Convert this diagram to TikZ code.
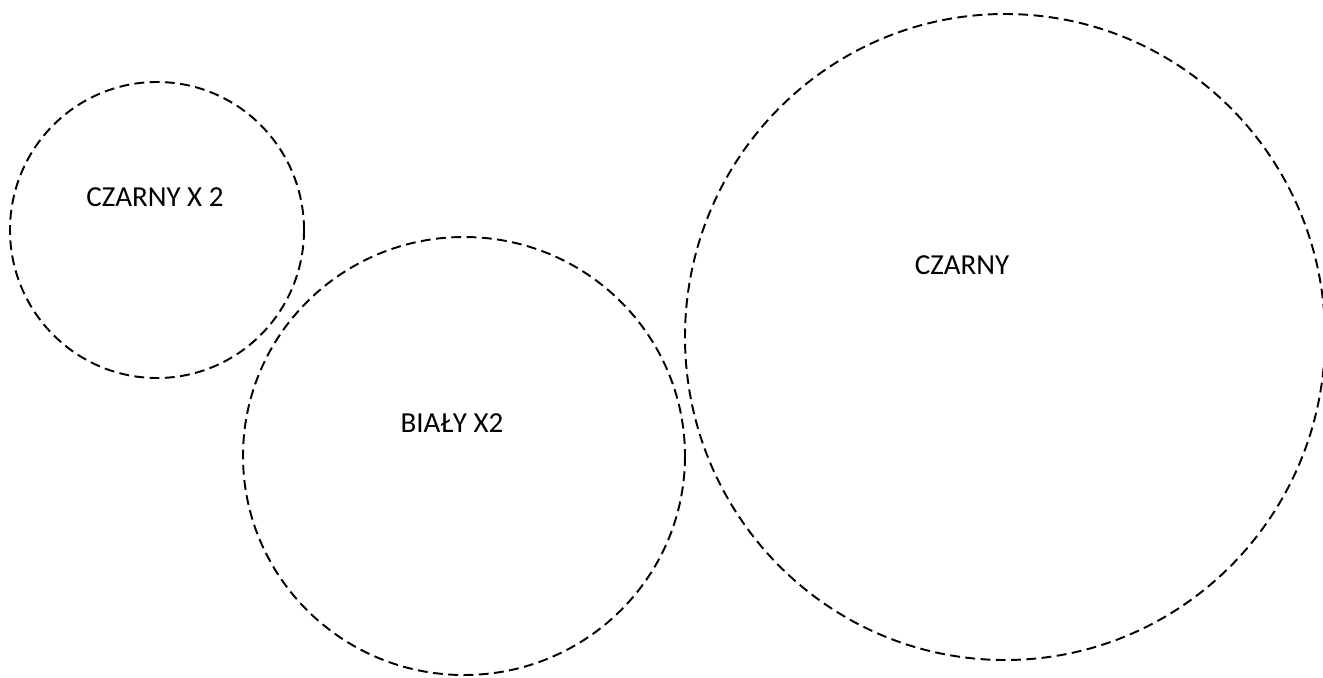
\documentclass[tikz,border=0pt]{standalone}
\usepackage{fontspec}
\setmainfont{Carlito}
\usepackage{xcolor}
\definecolor{ringink}{HTML}{000000}

\begin{document}
\begin{tikzpicture}[
  x=0.02cm,
  y=-0.02cm,
  every node/.style={font=\fontsize{16.5}{20}\selectfont, ringink, inner sep=0pt},
  ring/.style={ringink, line width=1.1pt, dash pattern=on 5.6pt off 3.1pt},
  tag/.style={anchor=base}
]
  \useasboundingbox (0,0) rectangle (1323,677);

  % ---- the three dashed rings ------------------------------------------
  \draw[ring] (157,230) ellipse (147 and 148);
  \draw[ring] (464,456) ellipse (221 and 219);
  \draw[ring] (1005,337) ellipse (320 and 323);

  % ---- what lies in each ring ------------------------------------------
  \node[tag] (czarnydwa) at (155,206.7) {CZARNY X 2};
  \node[tag] (bialydwa) at (452,432) {BIAŁY X2};
  \node[tag] (czarny) at (962,274) {CZARNY};
\end{tikzpicture}
\end{document}
